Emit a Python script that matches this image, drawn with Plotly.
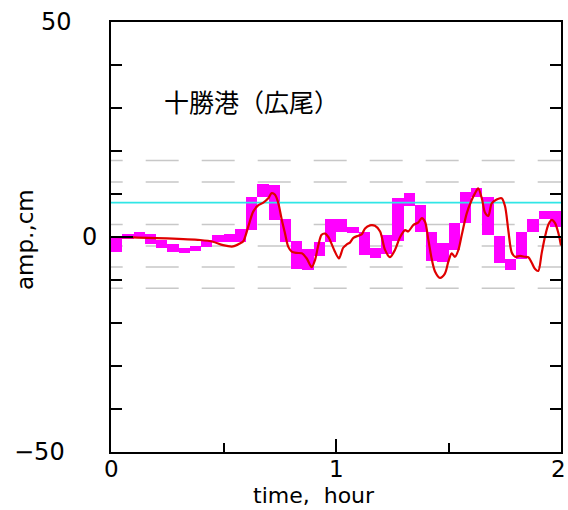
import plotly.graph_objects as go

# ---- data ----
step_hours = 0.05
box_low = [-3.4, -0.5, -0.2, -1.6, -2.6, -3.4, -3.8, -3.3, -2.3, -1.2,
           -1.1, -1.1, 1.6, 9.4, 4.0, -1.1, -7.5, -7.7, -4.5, -1.1,
           1.2, 0.9, -4.2, -4.8, -4.0, -1.0, 7.2, 1.2, -5.5, -5.7,
           -3.0, 3.2, 9.4, 0.5, -6.1, -7.7, -5.0, 1.2, 4.1, 2.4]
box_high = [0.1, 0.6, 1.2, 0.7, -0.7, -1.6, -2.5, -2.1, -0.6, 0.5,
            0.7, 1.8, 9.4, 12.3, 12.1, 4.1, -0.9, -2.8, -1.1, 4.3,
            4.3, 2.4, 1.2, -2.5, 0.5, 9.0, 10.2, 7.4, 1.2, -1.5,
            3.2, 10.5, 11.3, 9.4, 0.2, -5.0, 1.2, 4.2, 6.1, 6.1]

model_t = [0.000, 0.098, 0.249, 0.396, 0.453, 0.498, 0.542, 0.573, 0.588, 0.610,
           0.632, 0.655, 0.677, 0.699, 0.714, 0.729, 0.744, 0.759, 0.773, 0.788,
           0.803, 0.825, 0.848, 0.870, 0.892, 0.907, 0.921, 0.936, 0.951, 0.966,
           0.973, 0.996, 1.013, 1.032, 1.048, 1.062, 1.077, 1.099, 1.114, 1.129,
           1.151, 1.173, 1.196, 1.218, 1.240, 1.262, 1.284, 1.307, 1.321, 1.344,
           1.366, 1.381, 1.396, 1.410, 1.425, 1.440, 1.462, 1.484, 1.499, 1.514,
           1.529, 1.544, 1.559, 1.581, 1.603, 1.618, 1.632, 1.648, 1.662, 1.677,
           1.692, 1.714, 1.736, 1.751, 1.766, 1.781, 1.796, 1.818, 1.840, 1.855,
           1.870, 1.884, 1.899, 1.914, 1.929, 1.944, 1.959, 1.973, 1.988, 2.000]
model_v = [0.0, -0.1, -0.3, -0.7, -1.1, -1.9, -2.2, -1.5, -1.0, 2.4,
           5.9, 7.4, 8.0, 9.0, 10.2, 9.8, 7.8, 4.0, 0.9, -2.3,
           -3.4, -3.7, -3.8, -5.0, -7.0, -5.3, -2.0, 0.5, 0.8, 0.0,
           -0.7, -3.5, -5.0, -2.5, -1.7, -1.3, -0.2, 0.3, 0.6, 2.0,
           2.7, 2.6, 1.3, -3.0, -4.7, -3.0, -0.1, 1.6, 1.3, 2.8,
           3.4, 4.4, 3.5, -0.5, -5.0, -8.0, -9.5, -8.5, -5.8, -3.8,
           -4.6, -3.0, 0.5, 5.5, 8.6, 10.2, 11.3, 9.0, 5.7, 4.9,
           7.8, 8.7, 9.0, 7.2, 1.5, -3.6, -4.6, -4.4, -4.6, -4.7,
           -6.0, -7.4, -7.9, -3.8, 0.1, 2.9, 4.0, 3.3, 1.0, -2.0]

mean_level = 8.0
grey_levels = [17.8, 12.8, 2.9, -2.1, -7.0, -11.9]

y_ticks = [50, 0, -50]
y_tick_text = ["50", "0", "\u221250"]
x_ticks = [0, 1, 2]
x_tick_text = ["0", "1", "2"]
station = "十勝港（広尾）"
x_title = "time,  hour"
y_title = "amp.,cm"

# ---- figure ----
FONT = "DejaVu Sans"
fig = go.Figure()

centers = [step_hours * (i + 0.5) for i in range(len(box_low))]
fig.add_trace(go.Bar(
    x=centers, base=box_low,
    y=[h - l for l, h in zip(box_low, box_high)],
    width=step_hours, marker=dict(color="#ff00ff", line=dict(width=0)),
    showlegend=False, hoverinfo="skip"))

fig.add_trace(go.Scatter(x=[0, 2], y=[mean_level, mean_level], mode="lines",
                         line=dict(color="#30e6e6", width=1.6),
                         showlegend=False, hoverinfo="skip"))

fig.add_trace(go.Scatter(x=model_t, y=model_v, mode="lines",
                         line=dict(color="#e00000", width=2.2, shape="spline", smoothing=0.8),
                         showlegend=False))

# invisible trace for right axis
fig.add_trace(go.Scatter(x=[0], y=[0], yaxis="y2", mode="markers",
                         marker=dict(opacity=0), showlegend=False, hoverinfo="skip"))

for lv in grey_levels:
    fig.add_shape(type="line", xref="x", yref="y", x0=-0.0947, x1=2.2, y0=lv, y1=lv,
                  line=dict(color="#c8c8c8", width=1.5, dash="33px,23px"), layer="below")

yax = dict(range=[-50, 50], tickmode="array", tickvals=y_ticks, ticks="inside",
           ticklen=22, tickwidth=1.5, tickcolor="black", showticklabels=False,
           showgrid=False, zeroline=False, showline=True, linecolor="black", linewidth=1.5,
           minor=dict(dtick=10, tick0=0, ticks="inside", ticklen=11, tickwidth=1.5,
                      tickcolor="black", showgrid=False))

fig.update_layout(
    width=568, height=510,
    margin=dict(l=111, r=7, t=22, b=58),
    paper_bgcolor="white", plot_bgcolor="white",
    bargap=0,
    xaxis=dict(range=[0, 2], tickmode="array", tickvals=x_ticks, ticks="inside",
               ticklen=13, tickwidth=1.5, tickcolor="black", showticklabels=False,
               showgrid=False, zeroline=False, showline=True, linecolor="black",
               linewidth=1.5, mirror=True,
               minor=dict(dtick=0.5, tick0=0, ticks="inside", ticklen=9, tickwidth=1.5,
                          tickcolor="black", showgrid=False)),
    yaxis=yax,
    yaxis2=dict(yax, overlaying="y", side="right"),
    font=dict(family=FONT, color="black"),
)

ann = []
y_shifts = [-55, -22, -72]
for v, txt, xs in zip(y_ticks, y_tick_text, y_shifts):
    ann.append(dict(x=0, xref="paper", y=v, yref="y", text=txt, showarrow=False,
                    xanchor="center", yanchor="middle", xshift=xs, yshift=0,
                    font=dict(family=FONT, size=24, color="black")))
x_shifts = [0, 0, -3]
for v, txt, xs in zip(x_ticks, x_tick_text, x_shifts):
    ann.append(dict(x=v, xref="x", y=0, yref="paper", text=txt, showarrow=False,
                    xanchor="center", yanchor="middle", yshift=-17, xshift=xs,
                    font=dict(family=FONT, size=23, color="black")))
ann.append(dict(x=0.45, xref="paper", y=0, yref="paper", text=x_title, showarrow=False,
                xanchor="center", yanchor="middle", yshift=-43,
                font=dict(family=FONT, size=22, color="black")))
ann.append(dict(x=0, xref="paper", y=0, yref="y", text=y_title, showarrow=False,
                textangle=-90, xanchor="center", yanchor="middle", xshift=-86, yshift=-3,
                font=dict(family=FONT, size=23, color="black")))
ann.append(dict(x=0.313, xref="paper", y=0.817, yref="paper", text=station, showarrow=False,
                xanchor="center", yanchor="middle",
                font=dict(family="Noto Sans CJK JP", size=25, color="black")))
fig.update_layout(annotations=ann)

fig.write_html("out.html", config={"displayModeBar": False},
               post_script="document.body.style.margin='0';")
